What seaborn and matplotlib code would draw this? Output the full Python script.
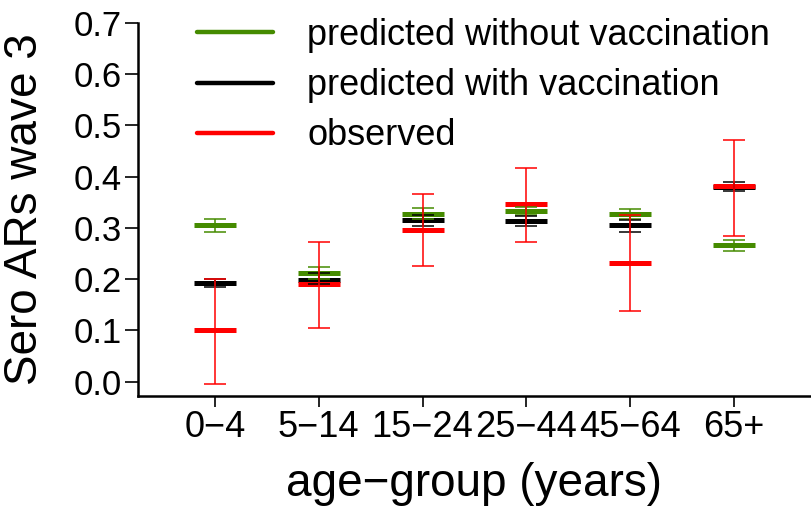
import numpy as np
import pandas as pd
import matplotlib
matplotlib.use("Agg")
import matplotlib.pyplot as plt
import seaborn as sns
from matplotlib.lines import Line2D

# --- datos ---
grupos = ['0\u22124', '5\u221214', '15\u221224', '25\u221244', '45\u221264', '65+']

sin_vac = [0.305, 0.212, 0.328, 0.333, 0.327, 0.266]
sin_vac_lo = [0.293, 0.201, 0.318, 0.326, 0.318, 0.255]
sin_vac_hi = [0.317, 0.223, 0.339, 0.341, 0.337, 0.276]

con_vac = [0.192, 0.199, 0.315, 0.314, 0.305, 0.380]
con_vac_lo = [0.184, 0.190, 0.303, 0.303, 0.293, 0.373]
con_vac_hi = [0.200, 0.212, 0.325, 0.323, 0.315, 0.389]

observado = [0.100, 0.190, 0.296, 0.347, 0.232, 0.381]
observado_lo = [-0.005, 0.104, 0.226, 0.273, 0.137, 0.284]
observado_hi = [0.201, 0.273, 0.367, 0.417, 0.325, 0.471]

etiquetas = ['predicted without vaccination', 'predicted with vaccination', 'observed']
colores = ['#458B00', 'black', '#FF0000']
# ---------------------------------

series = [
    (sin_vac, sin_vac_lo, sin_vac_hi),
    (con_vac, con_vac_lo, con_vac_hi),
    (observado, observado_lo, observado_hi),
]

filas = []
for etiqueta, (m, lo, hi) in zip(etiquetas, series):
    for i, g in enumerate(grupos):
        filas.append({'pos': i, 'grupo': g, 'serie': etiqueta,
                      'valor': m[i], 'lo': lo[i], 'hi': hi[i]})
df = pd.DataFrame(filas)

sns.set_theme(style='ticks')
plt.rcParams['font.family'] = ['Liberation Sans', 'DejaVu Sans']
plt.rcParams['text.color'] = 'black'
plt.rcParams['axes.labelcolor'] = 'black'

fig = plt.figure(figsize=(8.12, 5.08), dpi=100)
ax = fig.add_axes([138 / 812, 1 - 396 / 508, (810 - 138) / 812, (396 - 23) / 508])

for etiqueta, color in zip(etiquetas, colores):
    sub = df[df['serie'] == etiqueta]
    # medias como segmentos horizontales gruesos
    sns.scatterplot(data=sub, x='pos', y='valor', marker='_', s=30 ** 2,
                    color=color, linewidth=3.6, ax=ax, legend=False, zorder=3)
    # intervalos
    ax.errorbar(sub['pos'], sub['valor'],
                yerr=[sub['valor'] - sub['lo'], sub['hi'] - sub['valor']],
                fmt='none', ecolor=color, elinewidth=1.1, capsize=8,
                capthick=1.1, zorder=4)

ax.set_xlim(-0.74, 5.73)
ax.set_ylim(-0.028, 0.7)
ax.set_xticks(range(len(grupos)))
ax.set_xticklabels(grupos)
ax.set_yticks(np.arange(0, 0.71, 0.1))
ax.set_yticklabels([f'{v:.1f}' for v in np.arange(0, 0.71, 0.1)])

ax.tick_params(axis='both', width=1.2, color='black', labelcolor='black')
ax.tick_params(axis='y', length=9.5, pad=2, labelsize=25)
ax.tick_params(axis='x', length=8, pad=2, labelsize=26)

for lado in ['top', 'right']:
    ax.spines[lado].set_visible(False)
for lado in ['left', 'bottom']:
    ax.spines[lado].set_linewidth(1.8)
    ax.spines[lado].set_color('black')

ax.set_xlabel('age\u2212group (years)', fontsize=33, color='black')
ax.set_ylabel('Sero ARs wave 3', fontsize=33, color='black')
ax.xaxis.set_label_coords(0.5, -0.178)
ax.yaxis.set_label_coords(-0.135, 0.5)

manejadores = [Line2D([0], [0], color=c, lw=3.2, solid_capstyle='round') for c in colores]
fig.legend(manejadores, etiquetas, loc='upper left',
           bbox_to_anchor=(197 / 812, 1 - 18 / 508), bbox_transform=fig.transFigure,
           frameon=False, fontsize=26, handlelength=2.1, handletextpad=0.95,
           labelspacing=0.42, borderpad=0, borderaxespad=0)

fig.savefig('out.png', dpi=100)
